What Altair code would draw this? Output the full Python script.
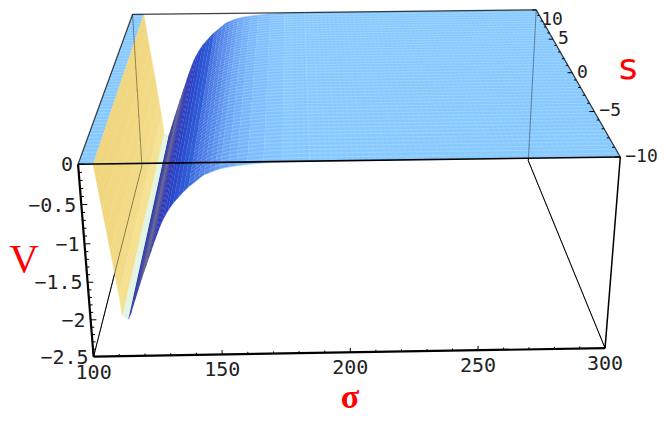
import altair as alt
import numpy as np
import pandas as pd

# ---- surface profile V(sigma), the same for every s ----
sigma = [100, 105.5, 106.5, 107.5, 108.5, 109.5, 110.5, 111.5, 112.3, 113, 113.7, 114.5,
         115.5, 116.5, 117.5, 118.5, 119.5, 120.5, 121.5, 122.5, 123.5, 124.5, 125.5, 126.5,
         127.5, 128.5, 129.5, 130.5, 132, 134, 136, 138, 140, 142, 144, 146, 148, 150, 152,
         155, 158, 162, 168, 175, 185, 300]
V = [0, 0, -0.28, -0.56, -0.83, -1.10, -1.38, -1.66, -1.95, -1.97, -1.99, -2.00,
     -1.93, -1.83, -1.74, -1.65, -1.56, -1.47, -1.38, -1.30, -1.21, -1.13, -1.04, -0.96,
     -0.88, -0.80, -0.73, -0.67, -0.59, -0.50, -0.43, -0.36, -0.30, -0.25, -0.20, -0.15,
     -0.125, -0.10, -0.08, -0.06, -0.045, -0.03, -0.015, -0.005, 0, 0]
# one colour per strip between neighbouring sigma values
strip_colors = ["#86C9FF", "#EFD47A", "#EFD47A", "#F0D67C", "#F0D67C", "#F1D880", "#F2DA84",
                "#F5E08E", "#E2F4E2", "#E0F5E6", "#E0F5E6",
                "#2A32A4", "#2A32A4", "#2E34A0", "#34389A", "#3E4094", "#4C4C8E", "#58588C",
                "#5A5A8E", "#505092", "#42449A", "#383CA0", "#3035A8", "#2A30AE", "#2832B4",
                "#2836BA", "#2A3CC0", "#2A42C4", "#2A48CA", "#2C50D0", "#2E58D4", "#325FD8",
                "#3A6ADE", "#4274E2", "#4A7EE6", "#5288EA", "#5A92EE", "#629CF2", "#6AA6F6",
                "#70AEF9", "#78B6FC", "#7EBEFE", "#82C4FF", "#86C8FF", "#88CAFF"]
s_range = [-10, 10]
s_mesh = [round(-10 + 0.4 * i, 1) for i in range(51)]
sigma_mesh = list(range(180, 302, 2))

sigma_ticks = list(range(100, 310, 10))
sigma_labels = [100, 150, 200, 250, 300]
s_ticks = list(range(-10, 11))
s_labels = [-10, -5, 0, 5, 10]
V_ticks = [round(-0.1 * i, 1) for i in range(26)]
V_labels = [0, -0.5, -1, -1.5, -2, -2.5]
box_sigma = [100, 300]
box_s = [-10, 10]
box_V = [-2.5, 0]

# ---- camera: where the eight corners of the box land in the picture ----
corners = [  # sigma, s, V, picture x, picture y
    (100, -10, 0, 78, 165), (300, -10, 0, 620, 158), (100, 10, 0, 133, 13), (300, 10, 0, 536, 10),
    (100, -10, -2.5, 93, 355), (300, -10, -2.5, 606, 348), (100, 10, -2.5, 142, 168), (300, 10, -2.5, 528, 160),
]
A, b = [], []
for a, c, d, u, v in corners:
    A.append([a, c, d, 1, 0, 0, 0, 0, -u * a, -u * c, -u * d]); b.append(u)
    A.append([0, 0, 0, 0, a, c, d, 1, -v * a, -v * c, -v * d]); b.append(v)
A = np.array(A, float); b = np.array(b, float)
scale_vec = np.abs(A).max(axis=0)
P = np.append(np.linalg.lstsq(A / scale_vec, b, rcond=None)[0] / scale_vec, 1).reshape(3, 4)
cam = np.linalg.svd(P)[2][-1]
cam_sigma = cam[0] / cam[3]


def proj(a, c, d):
    h = P @ np.array([a, c, d, 1.0])
    return float(h[0] / h[2]), float(h[1] / h[2])


# ---- surface strips, painted from far to near ----
order_idx = sorted(range(len(strip_colors)),
                   key=lambda i: -abs((sigma[i] + sigma[i + 1]) / 2 - cam_sigma))
rows = []
for g, i in enumerate(order_idx):
    quad = [(sigma[i], s_range[0], V[i]), (sigma[i + 1], s_range[0], V[i + 1]),
            (sigma[i + 1], s_range[1], V[i + 1]), (sigma[i], s_range[1], V[i])]
    for k, q in enumerate(quad):
        x, y = proj(*q)
        rows.append({"g": g, "k": k, "x": x, "y": y, "c": strip_colors[i]})
surface = pd.DataFrame(rows)

# mesh lines across sigma: blue rim, yellow wall, and the far side from 140 on
mesh_rows = []
for j, sv in enumerate(s_mesh):
    for a, d in zip(sigma, V):
        parts = []
        if a <= 105.5:
            parts.append(("a", "#FFFFFF"))
        if 105.5 <= a <= 112.3:
            parts.append(("y", "#FBEDB0"))
        if a >= 140:
            parts.append(("b", "#FFFFFF"))
        for part, col in parts:
            x, y = proj(a, sv, d)
            mesh_rows.append({"g": f"{part}{j}", "x": x, "y": y, "a": a, "c": col})
mesh = pd.DataFrame(mesh_rows)

cross_rows = []
for a in sigma_mesh:
    x, y = proj(a, s_range[0], 0)
    x2, y2 = proj(a, s_range[1], 0)
    cross_rows.append({"x": x, "y": y, "x2": x2, "y2": y2})
cross = pd.DataFrame(cross_rows)


def segs(pairs):
    out = []
    for p, q in pairs:
        x, y = proj(*p)
        x2, y2 = proj(*q)
        out.append({"x": x, "y": y, "x2": x2, "y2": y2})
    return pd.DataFrame(out)


s0, s1 = box_sigma
t0, t1 = box_s
v0, v1 = box_V
back_lines = segs([((s0, t1, v1), (s0, t1, v0)), ((s1, t1, v1), (s1, t1, v0)),
                   ((s0, t0, v0), (s0, t1, v0)), ((s1, t0, v0), (s1, t1, v0))])
front_thick = segs([((s0, t0, v1), (s0, t0, v0)), ((s0, t0, v0), (s1, t0, v0))])
front_right = segs([((s1, t0, v1), (s1, t0, v0))])
top_front = segs([((s0, t0, v1), (s1, t0, v1))])
top_rim = segs([((s0, t1, v1), (s1, t1, v1)), ((s0, t0, v1), (s0, t1, v1)), ((s1, t0, v1), (s1, t1, v1))])

tick_rows = []
for d in V_ticks:
    tick_rows.append(((s0, t0, d), (s0 + (2.2 if round(d * 2, 6) == round(d * 2) else 1.2), t0, d)))
for a in sigma_ticks:
    tick_rows.append(((a, t0, v0), (a, t0, v0 + (0.06 if a % 50 == 0 else 0.03))))
for c in s_ticks:
    tick_rows.append(((s1, c, v1), (s1 - (2.0 if c % 5 == 0 else 1.0), c, v1)))
ticks = segs(tick_rows)


def labels(items, top_limit=None):
    out = []
    for pos, txt in items:
        x, y = proj(*pos)
        if top_limit is not None:
            y = max(y, top_limit)
        out.append({"x": x, "y": y, "t": txt})
    return pd.DataFrame(out)


def fmt(n):
    return str(n).replace("-", "\u2212")


V_lab = labels([((s0, t0, d), fmt(d)) for d in V_labels])
sigma_lab = labels([((a, t0, v0), fmt(a)) for a in sigma_labels])
s_lab = labels([((s1, c, v1), fmt(c)) for c in s_labels], top_limit=20)

X = alt.X("x:Q", scale=alt.Scale(domain=[8, 658], nice=False, zero=False), axis=None)
Y = alt.Y("y:Q", scale=alt.Scale(domain=[415, 8], nice=False, zero=False), axis=None)


def rule(df, width, opacity=1.0, color="black"):
    return alt.Chart(df).mark_rule(strokeWidth=width, opacity=opacity, color=color).encode(
        x=X, y=Y, x2="x2:Q", y2="y2:Q")


surface_layer = alt.Chart(surface).mark_line(strokeWidth=0.5, interpolate="linear").encode(
    x=X, y=Y, detail="g:N", order="k:Q",
    fill=alt.Fill("c:N", scale=None), stroke=alt.Stroke("c:N", scale=None))
mesh_layer = alt.Chart(mesh).mark_line(strokeWidth=0.8, opacity=0.26).encode(
    x=X, y=Y, detail="g:N", order="a:Q", stroke=alt.Stroke("c:N", scale=None))

FONT = "DejaVu Sans Mono"
V_text = alt.Chart(V_lab).mark_text(font=FONT, fontSize=20, align="right", baseline="middle", dx=-5, dy=1, color="#222222").encode(x=X, y=Y, text="t:N")
sigma_text = alt.Chart(sigma_lab).mark_text(font=FONT, fontSize=20, align="center", baseline="middle", dy=16, color="#222222").encode(x=X, y=Y, text="t:N")
s_text = alt.Chart(s_lab).mark_text(font=FONT, fontSize=18, align="left", baseline="middle", dx=5, color="#222222").encode(x=X, y=Y, text="t:N")

title_V = alt.Chart(pd.DataFrame({"x": [24], "y": [260], "t": ["V"]})).mark_text(
    font="Liberation Serif", fontSize=41, color="#FF0000", baseline="middle").encode(x=X, y=Y, text="t:N")
title_s = alt.Chart(pd.DataFrame({"x": [628], "y": [68], "t": ["s"]})).mark_text(
    font="DejaVu Sans", fontSize=36, color="#FF0000", baseline="middle").encode(x=X, y=Y, text="t:N")
title_sigma = alt.Chart(pd.DataFrame({"x": [350], "y": [398], "t": ["\u03c3"]})).mark_text(
    font="Liberation Serif", fontSize=34, fontWeight="bold", color="#FF0000", baseline="middle").encode(x=X, y=Y, text="t:N")

chart = alt.layer(
    rule(back_lines, 1.0),
    surface_layer,
    mesh_layer,
    rule(cross, 0.7, opacity=0.22, color="#6FB4F5"),
    rule(back_lines, 1.0, opacity=0.38),
    rule(top_rim, 1.2, opacity=0.75),
    rule(top_front, 1.6),
    rule(front_right, 1.5),
    rule(front_thick, 2.2),
    rule(ticks, 1.0),
    V_text, sigma_text, s_text, title_V, title_s, title_sigma,
).properties(
    width=650, height=407, padding=0,
    autosize=alt.AutoSizeParams(type="none"),
    background="white",
).configure_view(stroke=None)

chart.save("out.html", embed_options={"renderer": "svg", "actions": False})
